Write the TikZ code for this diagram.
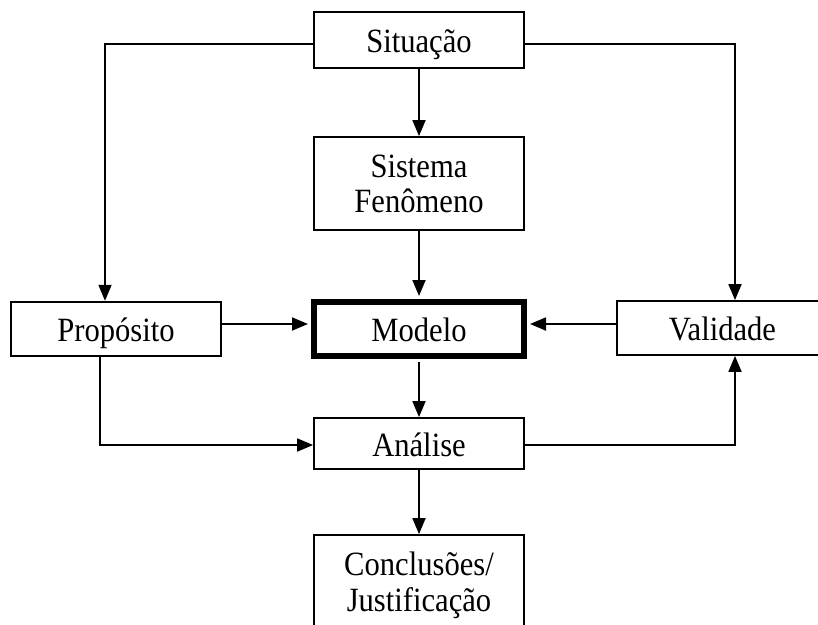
\documentclass[tikz,border=0pt]{standalone}
\usepackage{fontspec}
\setmainfont[FakeStretch=0.9]{Liberation Serif}
\usetikzlibrary{arrows.meta}
\begin{document}
\begin{tikzpicture}[x=1pt,y=-1pt,
  box/.style={draw,line width=1.8pt,minimum width=210pt,inner sep=0pt,align=center,
    text depth=0pt,font=\fontsize{34}{35.5}\selectfont},
  one/.style={box,text height=25.5pt},
  conn/.style={line width=1.8pt,-{Triangle[length=16pt,width=13pt]}}]
\useasboundingbox (0,0) rectangle (818,624);
\clip (0,0) rectangle (818,624);
\node[one,minimum height=56pt] (sit) at (419,40) {Situação};
\node[box,minimum height=93pt] (sys) at (419,183.5) {Sistema\\Fenômeno};
\node[one,minimum height=54pt] (pro) at (116,328.7) {Propósito};
\node[one,line width=6pt,minimum height=54pt] (mod) at (419,329) {Modelo};
\node[one,minimum width=211pt,minimum height=54pt] (val) at (722.5,328) {Validade};
\node[one,minimum height=51pt] (ana) at (419,443.5) {Análise};
\node[box,minimum height=93pt] (con) at (419,581.5) {Conclusões/\\Justificação};
\coordinate (xlt) at (105,0);
\coordinate (xlb) at (100,0);
\coordinate (xr) at (735,0);
\coordinate (ytop) at (0,44);
\coordinate (ymid) at (0,324);
\coordinate (ybot) at (0,445);
\draw[conn] (sit.west |- ytop) -| (xlt |- pro.north);
\draw[conn] (sit.east |- ytop) -| (xr |- val.north);
\draw[conn] (sit.south) -- (sys.north);
\draw[conn,shorten >=3pt] (sys.south) -- (mod.north);
\draw[conn,shorten >=3pt] (pro.east |- ymid) -- (mod.west |- ymid);
\draw[conn,shorten >=3pt] (val.west |- ymid) -- (mod.east |- ymid);
\draw[conn,shorten <=3pt] (mod.south) -- (ana.north);
\draw[conn] (xlb |- pro.south) |- (ana.west |- ybot);
\draw[conn] (ana.east |- ybot) -| (xr |- val.south);
\draw[conn] (ana.south) -- (con.north);
\end{tikzpicture}
\end{document}
